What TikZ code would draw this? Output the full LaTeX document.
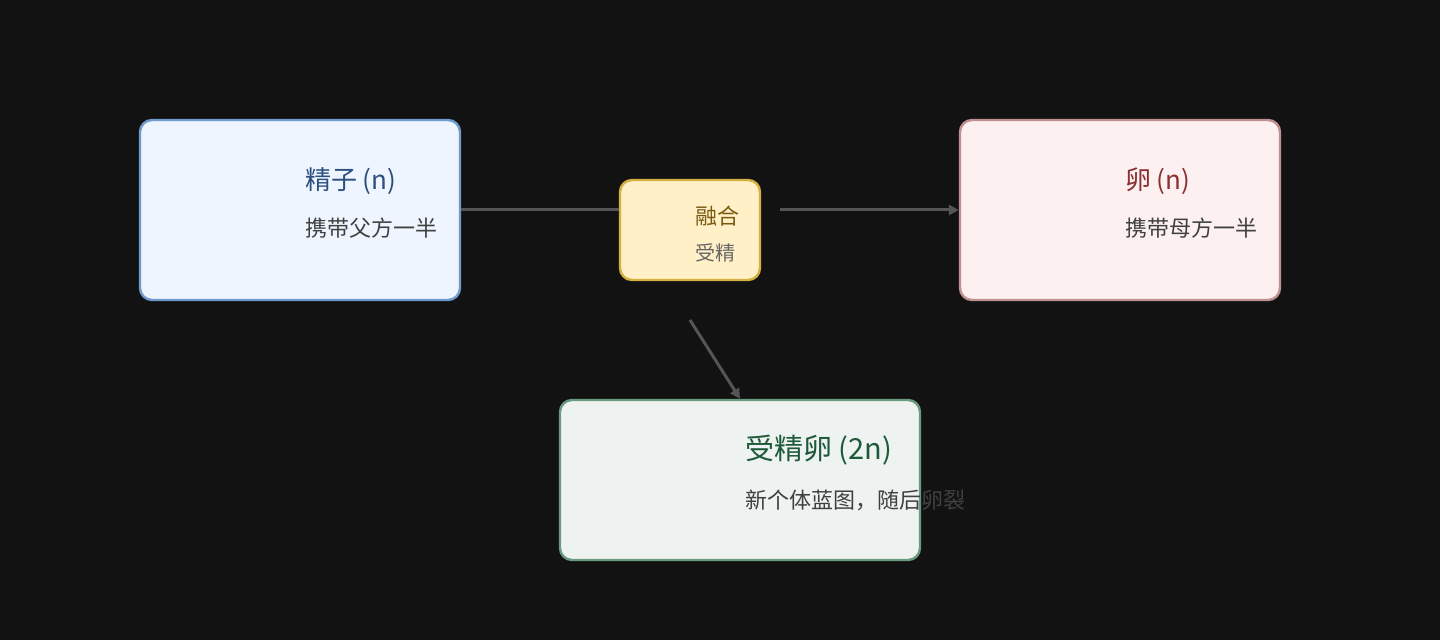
\documentclass[tikz,border=0pt]{standalone}
\usepackage{fontspec}
\setmainfont{Noto Sans CJK SC}
\usetikzlibrary{arrows.meta}
\definecolor{bg}{HTML}{121212}
\definecolor{ln}{HTML}{555555}
\definecolor{bluebd}{HTML}{6E9BCB}
\tikzset{
  box/.style={draw, line width=1.2pt, rounded corners=6pt, inner sep=0pt},
  ttl/.style={anchor=west, font=\fontsize{13}{15}\selectfont},
  sub/.style={anchor=west, font=\fontsize{11}{13}\selectfont, text=black!75},
  conn/.style={draw=ln, line width=1.5pt},
  arr/.style={conn, -{Triangle[length=5pt,width=5pt]}}
}
\begin{document}
\begin{tikzpicture}[x=0.5pt,y=-0.5pt]
\fill[bg] (0,0) rectangle (1440,640);
\useasboundingbox (0,0) rectangle (1440,640);
\node[box, draw=bluebd, fill={rgb,255:red,238;green,245;blue,255}, minimum width=160pt, minimum height=90pt] (sperm) at (300,210) {};
\node[box, draw={rgb,255:red,192;green,144;blue,144}, fill={rgb,255:red,253;green,240;blue,240}, minimum width=160pt, minimum height=90pt] (egg) at (1120,210) {};
\node[box, draw={rgb,255:red,212;green,176;blue,64}, fill={rgb,255:red,255;green,240;blue,200}, minimum width=70pt, minimum height=50pt] (fus) at (690,230) {};
\node[box, draw={rgb,255:red,106;green,154;blue,128}, fill={rgb,255:red,238;green,242;blue,240}, minimum width=180pt, minimum height=80pt] (zyg) at (740,480) {};
\node[ttl, text={rgb,255:red,43;green,79;blue,126}] (t1) at (298,181) {精子 (n)};
\node[sub] (s1) at (298,228) {携带父方一半};
\node[ttl, text={rgb,255:red,139;green,48;blue,48}] (t2) at (1118,181) {卵 (n)};
\node[sub] (s2) at (1118,228) {携带母方一半};
\node[ttl, font=\fontsize{11}{13}\selectfont, text={rgb,255:red,122;green,90;blue,16}] (t3) at (688,216) {融合};
\node[sub, font=\fontsize{10}{12}\selectfont, text=black!60] (s3) at (688,253) {受精};
\node[ttl, font=\fontsize{14.5}{16}\selectfont, text={rgb,255:red,30;green,90;blue,58}] (t4) at (738,450) {受精卵 (2n)};
\node[sub] (s4) at (738,500) {新个体蓝图，随后卵裂};
\coordinate (c1) at (780,210);
\coordinate (c2) at (690,320);
\draw[conn] (sperm.east) -- (fus.west |- sperm.east);
\draw[arr] (c1) -- (egg.west);
\draw[arr] (c2) -- (zyg.north);
\end{tikzpicture}
\end{document}
